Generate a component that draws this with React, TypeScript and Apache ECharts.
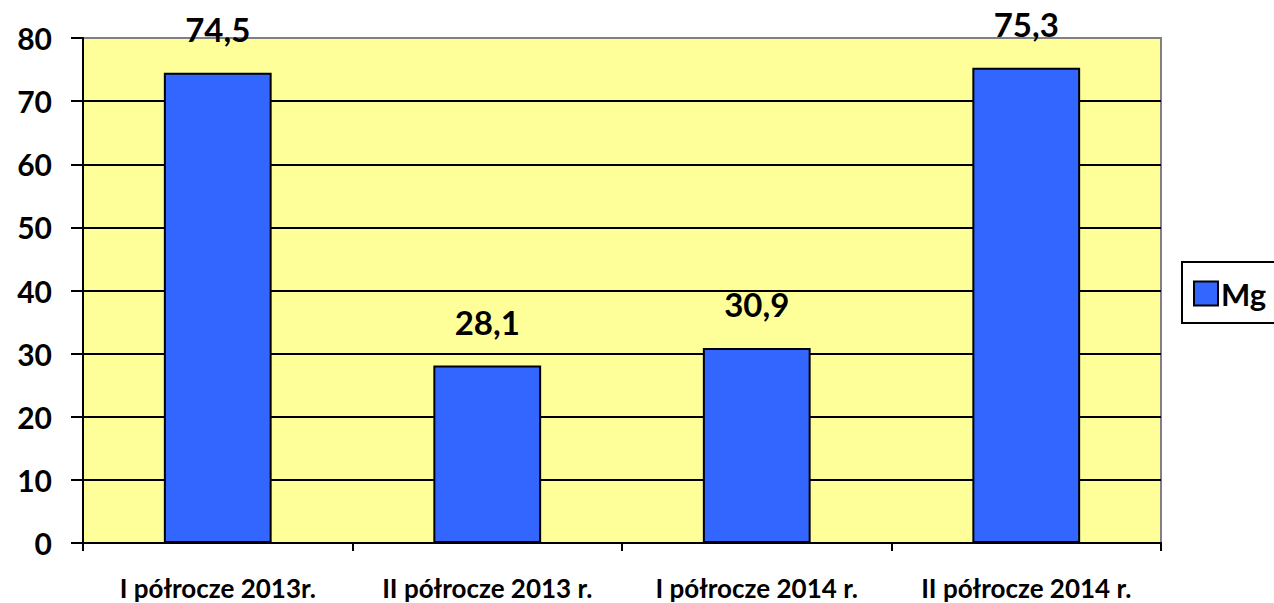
import React, { useEffect, useRef } from "react";
import * as echarts from "echarts";

const categories = ["I półrocze 2013r.", "II półrocze 2013 r.", "I półrocze 2014 r.", "II półrocze 2014 r."];
const values = [74.5, 28.1, 30.9, 75.3];
const seriesName = "Mg";
const yTicks = { min: 0, max: 80, interval: 10 };

export default function App() {
  const ref = useRef<HTMLDivElement>(null);
  useEffect(() => {
    const chart = echarts.init(ref.current!, null, { renderer: "svg" });
    const font = "Lato, 'Open Sans', sans-serif";
    const splitColors = ["#000", "#000", "#000", "#000", "#000", "#000", "#000", "#000", "#808080"];
    chart.setOption({
      animation: false,
      backgroundColor: "#ffffff",
      grid: {
        left: 83,
        top: 38,
        right: 113,
        bottom: 60,
        show: true,
        backgroundColor: "#FFFF99",
        borderColor: "#808080",
        borderWidth: 2,
      },
      legend: {
        left: 1182,
        top: 262,
        orient: "vertical",
        data: [seriesName],
        borderColor: "#000",
        borderWidth: 2,
        padding: [16, 60, 14, 11],
        itemWidth: 24,
        itemHeight: 24,
        itemGap: 0,
        icon: "rect",
        itemStyle: { borderColor: "#000", borderWidth: 2 },
        textStyle: { fontFamily: font, fontWeight: "bold", fontSize: 31, color: "#000", padding: [0, 0, 0, -2] },
      },
      xAxis: {
        type: "category",
        data: categories,
        axisLine: { show: true, lineStyle: { color: "#000", width: 2 } },
        axisTick: { show: true, length: 8, interval: 0, lineStyle: { color: "#000", width: 2 } },
        axisLabel: { interval: 0, fontFamily: font, fontWeight: "bold", fontSize: 26, color: "#000", margin: 32 },
      },
      yAxis: {
        type: "value",
        min: yTicks.min,
        max: yTicks.max,
        interval: yTicks.interval,
        axisLine: { show: true, lineStyle: { color: "#000", width: 2 } },
        axisTick: { show: true, length: 12, lineStyle: { color: "#000", width: 2 } },
        axisLabel: { fontFamily: font, fontWeight: "bold", fontSize: 30, color: "#000", margin: 31 },
        splitLine: { show: true, lineStyle: { color: splitColors, width: 2 } },
      },
      series: [
        {
          name: seriesName,
          type: "bar",
          data: values,
          barWidth: "40%",
          itemStyle: { color: "#3366FF", borderColor: "#000", borderWidth: 2 },
          label: {
            show: true,
            position: "top",
            distance: 27,
            fontFamily: font,
            fontWeight: "bold",
            fontSize: 33,
            color: "#000",
            formatter: (p: any) => String(p.value.toFixed(1)).replace(".", ","),
          },
        },
      ],
    });
    return () => chart.dispose();
  }, []);
  return <div ref={ref} style={{ position: "fixed", left: 0, top: 0, width: 1274, height: 603 }} />;
}
